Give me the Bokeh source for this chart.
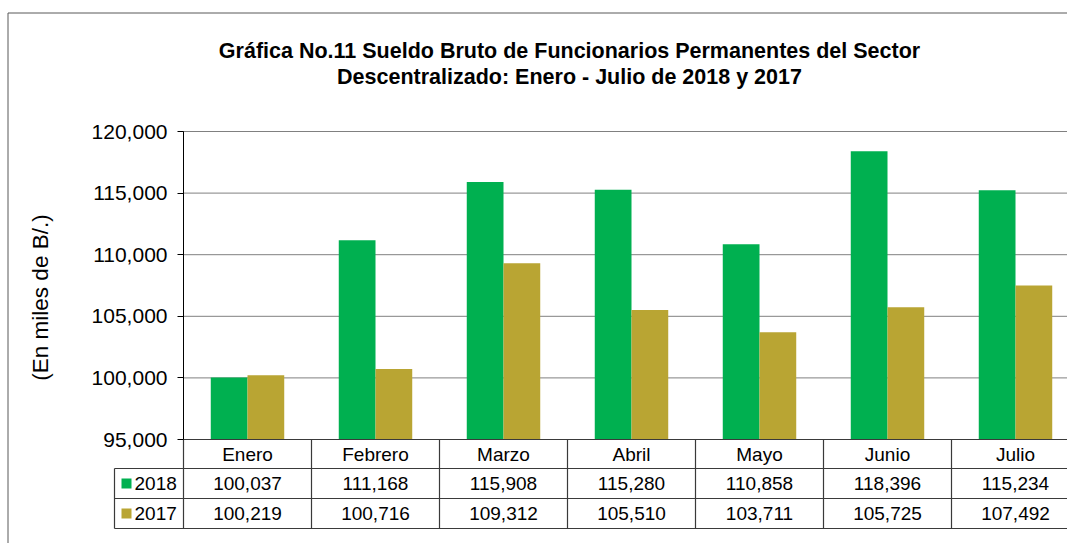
import numpy as np
from bokeh.plotting import figure
from bokeh.models import Range1d, FixedTicker, NumeralTickFormatter
from bokeh.core.properties import value
from bokeh.embed import file_html
from bokeh.resources import INLINE

# ---------------- data ----------------
months = ["Enero", "Febrero", "Marzo", "Abril", "Mayo", "Junio", "Julio"]
series_names = ["2018", "2017"]
values_2018 = [100037, 111168, 115908, 115280, 110858, 118396, 115234]
values_2017 = [100219, 100716, 109312, 105510, 103711, 105725, 107492]
y_ticks = [95000, 100000, 105000, 110000, 115000, 120000]
title_lines = ["Gráfica No.11 Sueldo Bruto de Funcionarios Permanentes del Sector",
               "Descentralizado: Enero - Julio de 2018 y 2017"]
y_label = "(En miles de B/.)"

# ---------------- layout helpers (canvas pixels -> data units) ----------------
W, H = 1067, 543
CAT_PX = 128.0
AXIS_X_PX = 183.0
TOP_PX, BOT_PX = 131.0, 439.0
Y_MIN, Y_MAX = y_ticks[0], y_ticks[-1]
K = (BOT_PX - TOP_PX) / (Y_MAX - Y_MIN)

def X(px):
    return (px - AXIS_X_PX) / CAT_PX

def Y(py):
    return Y_MAX - (py - TOP_PX) / K

GREEN = "#00B050"
OLIVE = "#B9A533"
LINE = "#3a3a3a"
FONT = "Liberation Sans"

p = figure(width=W, height=H, output_backend="svg", toolbar_location=None,
           x_range=Range1d(X(0), X(W)),
           y_range=Range1d(Y(H), Y(0)),
           min_border=0, min_border_left=0, min_border_right=0,
           min_border_top=0, min_border_bottom=0)
p.outline_line_color = None
p.xgrid.visible = False
p.ygrid.visible = False
p.xaxis.visible = False
p.background_fill_color = "white"
p.border_fill_color = "white"

# y axis, pinned at x = 0 (left edge of the category area)
ax = p.yaxis[0]
ax.fixed_location = 0
ax.ticker = FixedTicker(ticks=y_ticks)
ax.formatter = NumeralTickFormatter(format="0,0")
ax.bounds = (Y_MIN, Y_MAX)
ax.major_tick_out = 6
ax.major_tick_in = 0
ax.minor_tick_out = 0
ax.minor_tick_in = 0
ax.axis_line_color = "black"
ax.major_tick_line_color = "black"
ax.major_label_text_font = FONT
ax.major_label_text_font_size = "21px"
ax.major_label_text_color = "black"
ax.major_label_standoff = 10

n = len(months)
idx = np.arange(n)

# outer chart border (left / top)
p.segment(x0=[X(7.5), X(7.5)], y0=[Y(12.5), Y(12.5)],
          x1=[X(7.5), X(W)], y1=[Y(H), Y(12.5)],
          line_color="#595959", line_width=1)

# dotted gridlines
p.segment(x0=0, x1=X(W), y0=y_ticks[1:], y1=y_ticks[1:],
          line_color="#000000", line_width=1, line_dash="1 1")

# bars
bw = 0.287
p.vbar(x=idx + 0.5 - bw / 2, width=bw, bottom=Y_MIN, top=values_2018,
       fill_color=GREEN, line_color=None)
p.vbar(x=idx + 0.5 + bw / 2, width=bw, bottom=Y_MIN, top=values_2017,
       fill_color=OLIVE, line_color=None)

# ---------------- data table ----------------
R = [Y(439), Y(468), Y(498), Y(528)]
XL = X(114)
hx0 = [0, XL, XL, XL]
hx1 = [n, n, n, n]
p.segment(x0=hx0, x1=hx1, y0=R, y1=R, line_color=LINE, line_width=1.2)
vx = [XL] + list(range(n + 1))
vy0 = [R[1]] + [R[0]] * (n + 1)
p.segment(x0=vx, x1=vx, y0=vy0, y1=[R[3]] * len(vx), line_color=LINE, line_width=1.2)

mid = lambda a, b: (a + b) / 2
p.text(x=idx + 0.5, y=[mid(R[0], R[1])] * n, text=months,
       text_font=value(FONT), text_font_size="19px", text_color="black",
       text_align="center", text_baseline="middle")
p.text(x=idx + 0.5, y=[mid(R[1], R[2])] * n, text=[f"{v:,}" for v in values_2018],
       text_font=value(FONT), text_font_size="19px", text_color="black",
       text_align="center", text_baseline="middle")
p.text(x=idx + 0.5, y=[mid(R[2], R[3])] * n, text=[f"{v:,}" for v in values_2017],
       text_font=value(FONT), text_font_size="19px", text_color="black",
       text_align="center", text_baseline="middle")

# legend keys inside the table
p.scatter(x=[X(126), X(126)], y=[mid(R[1], R[2]), mid(R[2], R[3])], marker="square",
          size=10, fill_color=[GREEN, OLIVE], line_color=None)
p.text(x=[X(134), X(134)], y=[mid(R[1], R[2]), mid(R[2], R[3])], text=series_names,
       text_font=value(FONT), text_font_size="19px", text_color="black",
       text_align="left", text_baseline="middle")

# title
p.text(x=[X(569), X(569)], y=[Y(50.5), Y(76.5)], text=title_lines,
       text_font=value(FONT), text_font_size="21.5px", text_font_style="bold",
       text_color="black", text_align="center", text_baseline="middle")

# y axis label
p.text(x=[X(40)], y=[Y(297)], text=[y_label], angle=np.pi / 2,
       text_font=value(FONT), text_font_size="22.5px", text_color="black",
       text_align="center", text_baseline="middle")

open("out.html", "w").write(file_html(p, INLINE))
